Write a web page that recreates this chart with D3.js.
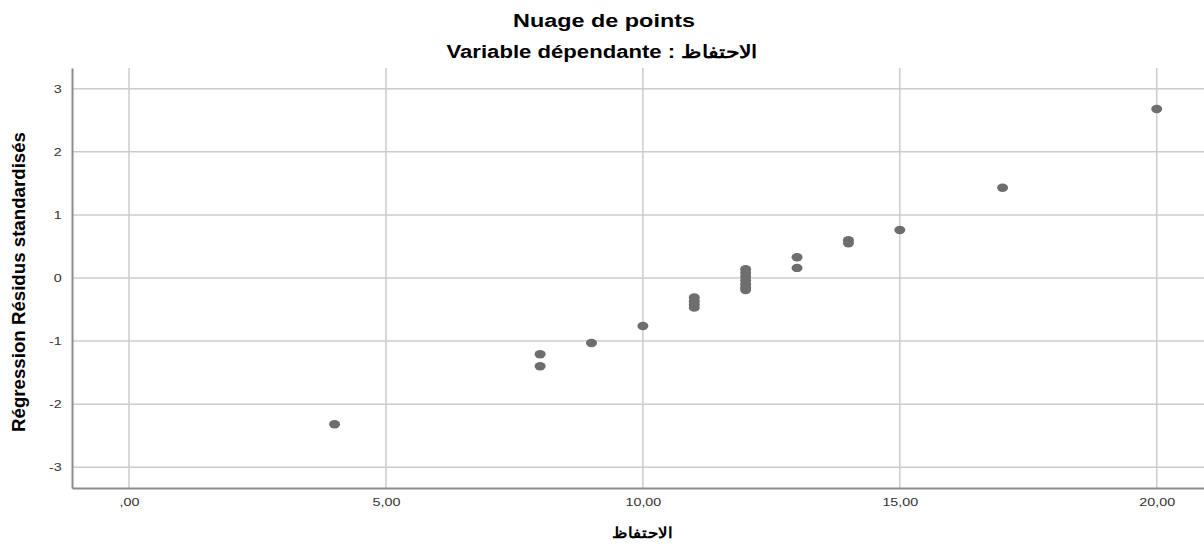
<!DOCTYPE html>
<html>
<head>
<meta charset="utf-8">
<script src="https://cdn.jsdelivr.net/npm/d3@7"></script>
<style>
  body { margin: 0; background: #fff; }
  text { font-family: Arial, "Liberation Sans", sans-serif; }
</style>
</head>
<body>
<svg width="1204" height="546"></svg>
<script>
// values
var retention = [4, 8, 8, 9, 10, 11, 11, 11, 11, 12, 12, 12, 12, 12, 12, 12, 13, 13, 14, 14, 15, 17, 20];
var residuals = [-2.32, -1.21, -1.40, -1.03, -0.76, -0.31, -0.37, -0.42, -0.47,
                 0.14, 0.08, 0.02, -0.04, -0.10, -0.15, -0.19, 0.33, 0.16, 0.60, 0.55, 0.76, 1.43, 2.68];
var xTicks = [0, 5, 10, 15, 20];
var yTicks = [-3, -2, -1, 0, 1, 2, 3];

var svg = d3.select("svg"),
  width = +svg.attr("width"),
  height = +svg.attr("height");

var plotLeft = 72, plotRight = 1204, plotTop = 68, plotBottom = 488;

var x = d3.scaleLinear().domain([-1.11, 20.92]).range([plotLeft, plotRight]);
var y = d3.scaleLinear().domain([-3.33, 3.33]).range([plotBottom, plotTop]);

function fmtX(d) {
  var s = d.toFixed(2).replace(".", ",");
  return d == 0 ? s.replace(/^0/, "") : s;
}

// grid
svg.append("g").selectAll("line").data(xTicks).enter().append("line")
  .attr("x1", d => x(d)).attr("x2", d => x(d))
  .attr("y1", plotTop).attr("y2", plotBottom)
  .attr("stroke", "#cccccc").attr("stroke-width", 1.5)
svg.append("g").selectAll("line").data(yTicks).enter().append("line")
  .attr("x1", plotLeft).attr("x2", plotRight)
  .attr("y1", d => y(d)).attr("y2", d => y(d))
  .attr("stroke", "#cccccc").attr("stroke-width", 1.5)

// axes
var xAxis = svg.append("g").attr("transform", "translate(0," + plotBottom + ")")
  .call(d3.axisBottom(x).tickValues(xTicks).tickFormat(fmtX).tickSize(0).tickPadding(10))
var yAxis = svg.append("g").attr("transform", "translate(" + plotLeft + ",0)")
  .call(d3.axisLeft(y).tickValues(yTicks).tickFormat(d => String(d)).tickSize(0).tickPadding(8))

;[xAxis, yAxis].forEach(a => {
  a.select(".domain").attr("stroke", "#8c8c8c").attr("stroke-width", 2)
  a.selectAll("text").style("fill", "#333").style("font-size", "11px")
})
// the source picture is a little stretched sideways
xAxis.selectAll("text").attr("transform", "scale(1.3,1)")
yAxis.selectAll("text").attr("x", -8).attr("transform", "scale(1.3,1)")

// points
svg.append("g").selectAll("ellipse")
  .data(retention.map((d, i) => [d, residuals[i]]))
  .enter().append("ellipse")
  .attr("cx", d => x(d[0]))
  .attr("cy", d => y(d[1]))
  .attr("rx", 5.5).attr("ry", 4.2)
  .attr("fill", "#6e6e6e")

// titles
svg.append("text").attr("x", 604).attr("y", 27).attr("text-anchor", "middle")
  .attr("textLength", 182).attr("lengthAdjust", "spacingAndGlyphs")
  .style("font-size", "18px").style("font-weight", "bold").text("Nuage de points")
svg.append("text").attr("x", 602).attr("y", 58).attr("text-anchor", "middle")
  .attr("textLength", 311).attr("lengthAdjust", "spacingAndGlyphs")
  .style("font-size", "18px").style("font-weight", "bold")
  .text("Variable dépendante : \u200Eالاحتفاظ")

svg.append("text").attr("x", 642).attr("y", 538).attr("text-anchor", "middle")
  .attr("textLength", 60).attr("lengthAdjust", "spacingAndGlyphs")
  .style("font-size", "15px").style("font-weight", "bold").text("الاحتفاظ")

svg.append("text")
  .attr("transform", "translate(25,282)rotate(-90)")
  .attr("text-anchor", "middle")
  .attr("textLength", 300).attr("lengthAdjust", "spacingAndGlyphs")
  .style("font-family", "'Liberation Sans Narrow', 'Arial Narrow', Arial, sans-serif")
  .style("font-size", "18px").style("font-weight", "bold")
  .text("Régression Résidus standardisés")
</script>
</body>
</html>
